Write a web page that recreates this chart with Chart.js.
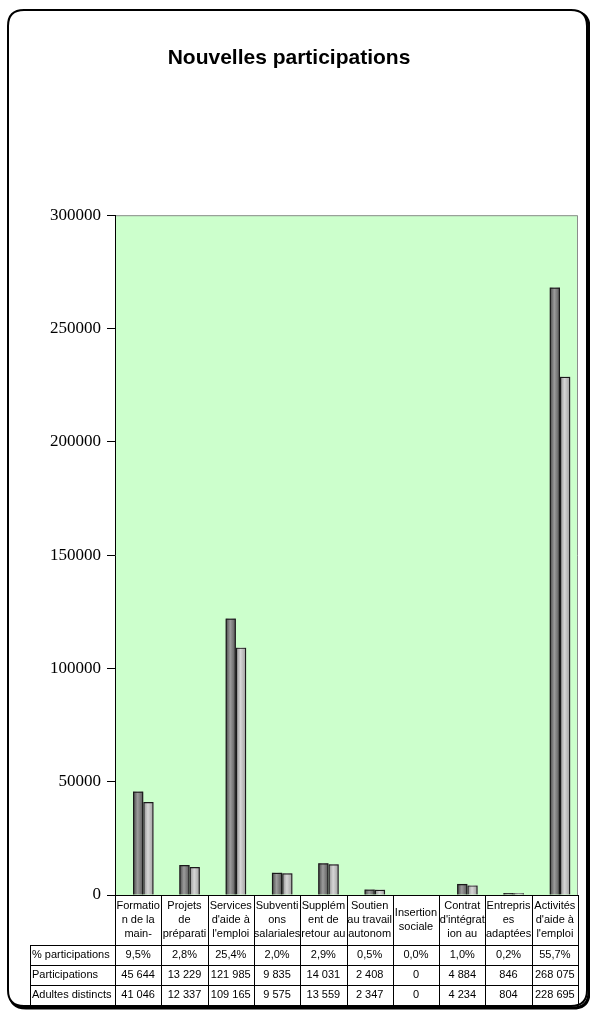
<!DOCTYPE html>
<html lang="fr">
<head>
<meta charset="utf-8">
<title>Nouvelles participations</title>
<script src="https://cdn.jsdelivr.net/npm/chart.js@4.4.1/dist/chart.umd.min.js"></script>
<style>
  html, body { margin: 0; padding: 0; background: #fff; }
  #wrap { position: relative; width: 590px; height: 1011px; }
</style>
</head>
<body>
<div id="wrap"><canvas id="chart"></canvas></div>
<script>
// categories (as cut in the data table)
const categories = [
    ['Formatio', 'n de la', 'main-'],
    ['Projets', 'de', 'préparati'],
    ['Services', "d'aide à", "l'emploi"],
    ['Subventi', 'ons', 'salariales'],
    ['Supplém', 'ent de', 'retour au'],
    ['Soutien', 'au travail', 'autonom'],
    ['Insertion', 'sociale'],
    ['Contrat', "d'intégrat", 'ion au'],
    ['Entrepris', 'es', 'adaptées'],
    ['Activités', "d'aide à", "l'emploi"]
];

const seriesNames = ['% participations', 'Participations', 'Adultes distincts'];

// series values
const pctParticipations = [0.095, 0.028, 0.254, 0.020, 0.029, 0.005, 0.000, 0.010, 0.002, 0.557];
const participations = [45644, 13229, 121985, 9835, 14031, 2408, 0, 4884, 846, 268075];
const adultesDistincts = [41046, 12337, 109165, 9575, 13559, 2347, 0, 4234, 804, 228695];

// y axis
const yMin = 0;
const yMax = 300000;
const yStep = 50000;

Chart.defaults.font.family = "'Liberation Sans', Arial, sans-serif";
Chart.defaults.color = '#000';

function fmtNumber(v) {
    return String(v).replace(/\B(?=(\d{3})+(?!\d))/g, ' ');
}
function fmtPct(v) {
    return (v * 100).toFixed(1).replace('.', ',') + '%';
}

// rounded frame + green plot area
const backgroundPlugin = {
    id: 'background',
    beforeDraw(chart) {
        const ctx = chart.ctx;
        const a = chart.chartArea;
        ctx.save();
        ctx.fillStyle = '#fff';
        ctx.fillRect(0, 0, chart.width, chart.height);

        function frame(x, y, w, h, r) {
            ctx.beginPath();
            ctx.moveTo(x + r, y);
            ctx.lineTo(x + w - r, y);
            ctx.quadraticCurveTo(x + w, y, x + w, y + r);
            ctx.lineTo(x + w, y + h - r);
            ctx.quadraticCurveTo(x + w, y + h, x + w - r, y + h);
            ctx.lineTo(x + r, y + h);
            ctx.quadraticCurveTo(x, y + h, x, y + h - r);
            ctx.lineTo(x, y + r);
            ctx.quadraticCurveTo(x, y, x + r, y);
            ctx.closePath();
        }
        // shadow
        ctx.strokeStyle = '#000';
        ctx.lineWidth = 3;
        frame(10, 12, 579, 996, 16);
        ctx.stroke();
        ctx.fillStyle = '#fff';
        frame(8, 10, 579, 996, 16);
        ctx.fill();
        ctx.lineWidth = 2;
        frame(8, 10, 579, 996, 16);
        ctx.stroke();

        ctx.fillStyle = '#CCFFCC';
        ctx.fillRect(a.left, a.top, a.right - a.left, a.bottom - a.top);
        ctx.strokeStyle = '#8c8c8c';
        ctx.lineWidth = 1;
        ctx.beginPath();
        ctx.moveTo(a.left, a.top + 0.5);
        ctx.lineTo(a.right - 0.5, a.top + 0.5);
        ctx.lineTo(a.right - 0.5, a.bottom);
        ctx.stroke();
        ctx.restore();
    }
};

// cylinder-like shading under the bar borders
const shadePlugin = {
    id: 'shade',
    beforeDatasetsDraw(chart) {
        const ctx = chart.ctx;
        const stops = {
            1: ['#454545', '#9c9c9c', '#555555'],
            2: ['#8e8e8e', '#d6d6d6', '#9c9c9c']
        };
        ctx.save();
        [1, 2].forEach(di => {
            const meta = chart.getDatasetMeta(di);
            meta.data.forEach(bar => {
                const h = bar.base - bar.y;
                if (h <= 0) return;
                const x0 = bar.x - bar.width / 2;
                const g = ctx.createLinearGradient(x0, 0, x0 + bar.width, 0);
                g.addColorStop(0, stops[di][0]);
                g.addColorStop(0.45, stops[di][1]);
                g.addColorStop(1, stops[di][2]);
                ctx.fillStyle = g;
                ctx.fillRect(x0, bar.y, bar.width, h);
            });
        });
        ctx.restore();
    }
};

// data table under the plot
const tablePlugin = {
    id: 'dataTable',
    afterDraw(chart) {
        const ctx = chart.ctx;
        const xs = chart.scales.x;
        const top = chart.chartArea.bottom;
        const headH = 50, rowH = 20, labelLeft = 30;
        const n = categories.length;
        const colW = (xs.right - xs.left) / n;
        const bottom = top + headH + rowH * 3;
        const px = v => Math.round(v) + 0.5;

        ctx.save();
        ctx.strokeStyle = '#000';
        ctx.lineWidth = 1;
        ctx.beginPath();
        ctx.moveTo(xs.left, px(top));
        ctx.lineTo(xs.right, px(top));
        for (let r = 0; r <= 3; r++) {
            const y = px(top + headH + r * rowH);
            ctx.moveTo(labelLeft, y);
            ctx.lineTo(xs.right, y);
        }
        for (let i = 0; i <= n; i++) {
            const x = px(xs.left + i * colW);
            ctx.moveTo(x, top);
            ctx.lineTo(x, bottom);
        }
        ctx.moveTo(px(labelLeft), top + headH);
        ctx.lineTo(px(labelLeft), bottom);
        ctx.stroke();

        ctx.fillStyle = '#000';
        ctx.font = "11px 'Liberation Sans', Arial, sans-serif";
        ctx.textAlign = 'center';
        ctx.textBaseline = 'middle';
        categories.forEach((lines, i) => {
            const cx = xs.getPixelForValue(i);
            const y0 = top + headH / 2 - (lines.length - 1) * 14 / 2;
            lines.forEach((t, k) => ctx.fillText(t, cx, y0 + k * 14));
        });

        const rows = [
            pctParticipations.map(fmtPct),
            participations.map(fmtNumber),
            adultesDistincts.map(fmtNumber)
        ];
        rows.forEach((vals, r) => {
            const cy = top + headH + r * rowH + rowH / 2;
            ctx.textAlign = 'left';
            ctx.fillText(seriesNames[r], labelLeft + 2, cy);
            ctx.textAlign = 'center';
            vals.forEach((t, i) => ctx.fillText(t, xs.getPixelForValue(i), cy));
        });
        ctx.restore();
    }
};

new Chart(document.getElementById('chart'), {
    type: 'bar',
    data: {
        labels: categories,
        datasets: [
            {
                label: seriesNames[0],
                data: pctParticipations,
                backgroundColor: 'rgba(0,0,0,0)',
                borderWidth: 0
            },
            {
                label: seriesNames[1],
                data: participations,
                backgroundColor: 'rgba(0,0,0,0)',
                borderColor: '#1a1a1a',
                borderWidth: 1.2
            },
            {
                label: seriesNames[2],
                data: adultesDistincts,
                backgroundColor: 'rgba(0,0,0,0)',
                borderColor: '#1a1a1a',
                borderWidth: 1.2
            }
        ]
    },
    options: {
        responsive: true,
        maintainAspectRatio: false,
        animation: false,
        categoryPercentage: 3 / 4.5,
        barPercentage: 1,
        layout: { padding: { left: 0, right: 12, top: 0, bottom: 116 } },
        plugins: {
            legend: { display: false },
            tooltip: { enabled: false },
            title: {
                display: true,
                text: 'Nouvelles participations',
                color: '#000',
                font: { size: 21, weight: 'bold' },
                padding: { top: 46, bottom: 144 }
            }
        },
        scales: {
            x: {
                display: false,
                offset: true
            },
            y: {
                min: yMin,
                max: yMax,
                afterFit(scale) { scale.width = 115; },
                ticks: {
                    stepSize: yStep,
                    padding: 6,
                    color: '#000',
                    font: { family: "'Liberation Serif', 'Times New Roman', serif", size: 17 },
                    callback: v => String(v)
                },
                grid: {
                    drawOnChartArea: false,
                    drawTicks: true,
                    tickLength: 8,
                    color: '#000'
                },
                border: { display: true, color: '#000', width: 1 }
            }
        }
    },
    plugins: [backgroundPlugin, shadePlugin, tablePlugin]
});
</script>
</body>
</html>
